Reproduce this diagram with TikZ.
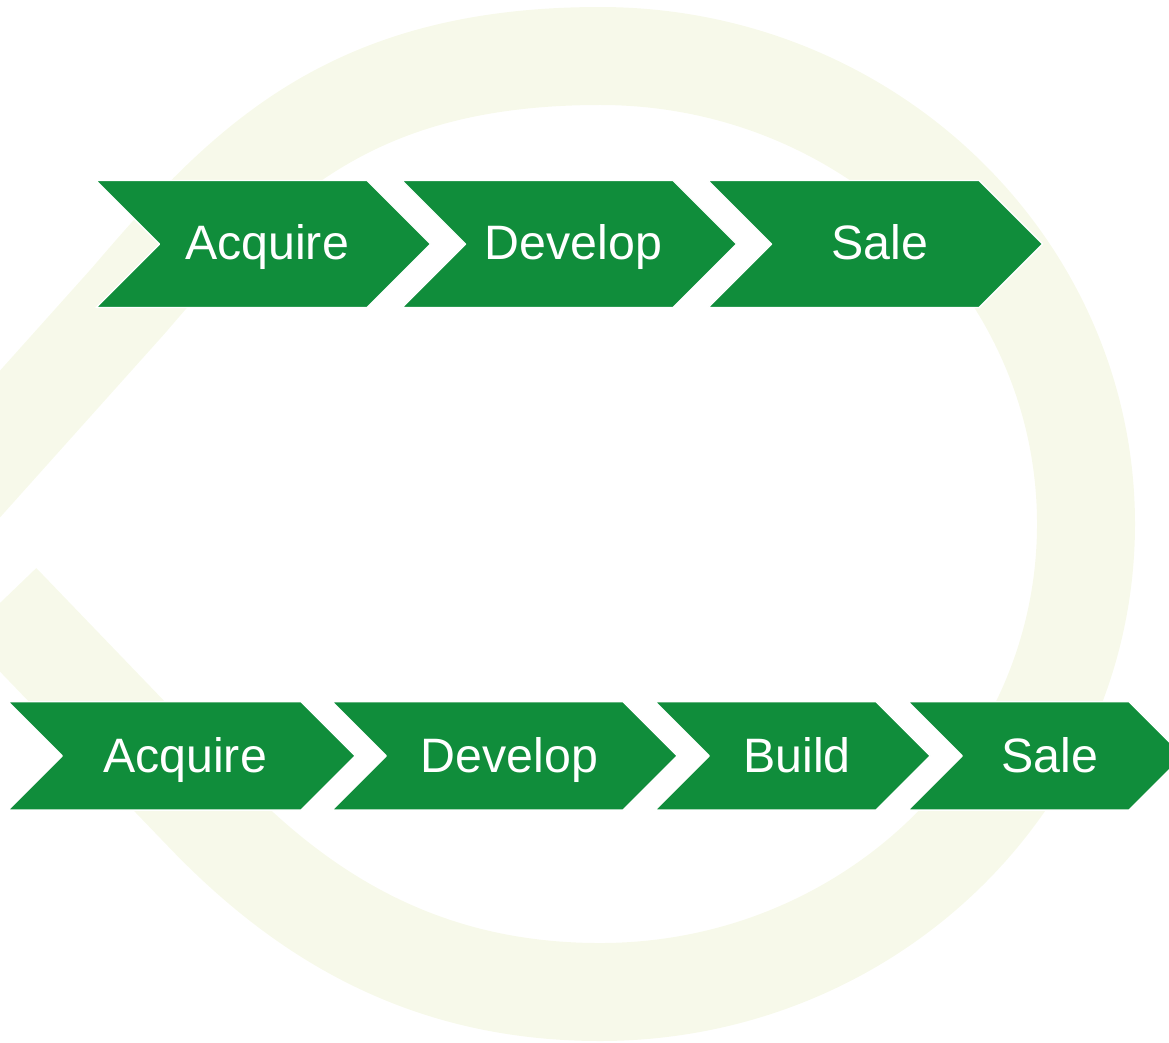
\documentclass[tikz,border=0pt]{standalone}
\usepackage{fontspec}
\setmainfont{Liberation Sans}
\definecolor{stagegreen}{RGB}{16,141,59}
\definecolor{logotint}{RGB}{247,249,234}
\tikzset{
	stage/.style={fill=stagegreen, draw=white, line width=0.8pt},
	stagetext/.style={anchor=base, text=white, font=\fontsize{27.5}{33}\selectfont},
	logo/.style={draw=logotint, line width=1.96cm, line cap=butt}
}

\begin{document}
\begin{tikzpicture}[x=0.02cm, y=-0.02cm, line join=round]

\useasboundingbox (0,0) rectangle (1169,1042);
\clip (0,0) rectangle (1169,1042);

% ===== faint logo behind =====
\draw[logo] (-60,511) -- (129,300)
	.. controls (246,163) and (350,56) .. (600,56)
	arc[start angle=-90, end angle=90, x radius=486, y radius=468]
	.. controls (430,992) and (307.5,921) .. (204,813) -- (1,602);

% ===== Top row: three stages =====
\fill[stage] (96,180.5) -- ++(271,0) -- ++(63.5,63.5) -- ++(-63.5,63.5)
	-- ++(-271,0) -- ++(63.5,-63.5) -- cycle;
\fill[stage] (402,180.5) -- ++(271,0) -- ++(63.5,63.5) -- ++(-63.5,63.5)
	-- ++(-271,0) -- ++(63.5,-63.5) -- cycle;
\fill[stage] (708,180.5) -- ++(271,0) -- ++(63.5,63.5) -- ++(-63.5,63.5)
	-- ++(-271,0) -- ++(63.5,-63.5) -- cycle;
\node[stagetext] (acqA) at (267,259.5) {Acquire};
\node[stagetext] (devA) at (573.5,259.5) {Develop};
\node[stagetext] (saleA) at (880,259.5) {Sale};

% ===== Bottom row: four stages =====
\fill[stage] (8,701.7) -- ++(293,0) -- ++(54.2,54.2) -- ++(-54.2,54.2)
	-- ++(-293,0) -- ++(54.2,-54.2) -- cycle;
\fill[stage] (332,701.7) -- ++(291,0) -- ++(54.2,54.2) -- ++(-54.2,54.2)
	-- ++(-291,0) -- ++(54.2,-54.2) -- cycle;
\fill[stage] (655,701.7) -- ++(221,0) -- ++(54.2,54.2) -- ++(-54.2,54.2)
	-- ++(-221,0) -- ++(54.2,-54.2) -- cycle;
\fill[stage] (908,701.7) -- ++(221,0) -- ++(54.2,54.2) -- ++(-54.2,54.2)
	-- ++(-221,0) -- ++(54.2,-54.2) -- cycle;
\node[stagetext] (acqB) at (185,772) {Acquire};
\node[stagetext] (devB) at (509.5,772) {Develop};
\node[stagetext] (buildB) at (797,772) {Build};
\node[stagetext] (saleB) at (1050,772) {Sale};

\end{tikzpicture}
\end{document}
